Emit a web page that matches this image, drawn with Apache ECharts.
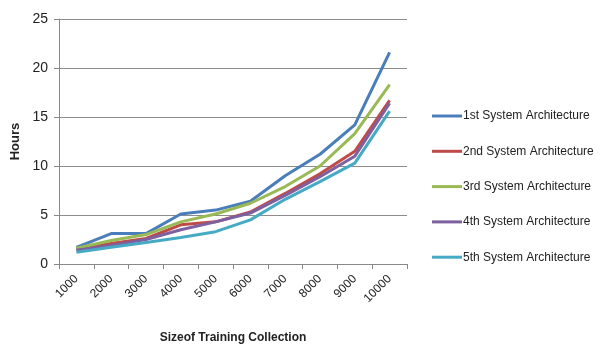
<!DOCTYPE html>
<html>
<head>
<meta charset="utf-8">
<script src="https://cdn.jsdelivr.net/npm/echarts@6/dist/echarts.min.js"></script>
<style>
  html, body { margin: 0; padding: 0; background: #fff; }
  #chart { width: 614px; height: 349px; }
</style>
</head>
<body>
<div id="chart"></div>
<script>
// Training collection sizes (x axis categories)
const sizes = ['1000', '2000', '3000', '4000', '5000', '6000', '7000', '8000', '9000', '10000'];

// Training time in hours for each architecture
const arch1 = [1.7, 3.1, 3.1, 5.1, 5.5, 6.4, 9.0, 11.2, 14.2, 21.6];
const arch2 = [1.5, 2.1, 2.6, 4.0, 4.3, 5.3, 7.2, 9.2, 11.5, 16.7];
const arch3 = [1.6, 2.4, 3.0, 4.3, 5.1, 6.2, 7.9, 10.0, 13.3, 18.3];
const arch4 = [1.4, 1.9, 2.5, 3.5, 4.3, 5.2, 7.0, 8.9, 11.0, 16.4];
const arch5 = [1.2, 1.7, 2.2, 2.7, 3.3, 4.5, 6.6, 8.4, 10.3, 15.6];

const seriesNames = [
  '1st System Architecture',
  '2nd System Architecture',
  '3rd System Architecture',
  '4th System Architecture',
  '5th System Architecture'
];
const seriesData = [arch1, arch2, arch3, arch4, arch5];
const colors = ['#4a7ebb', '#be4b48', '#98b954', '#7d60a0', '#46aac5'];

const font = "'Liberation Sans', sans-serif";

const chart = echarts.init(document.getElementById('chart'));
chart.setOption({
  animation: false,
  color: colors,
  textStyle: { fontFamily: font },
  grid: { left: 59, right: 207, top: 19, bottom: 84 },
  legend: {
    orient: 'vertical',
    left: 432,
    top: 110,
    padding: 0,
    itemWidth: 30,
    itemHeight: 3,
    itemGap: 23.3,
    icon: 'rect',
    data: seriesNames,
    textStyle: { fontFamily: font, fontSize: 12, color: '#222', padding: [0, 0, 0, -4] }
  },
  xAxis: {
    type: 'category',
    data: sizes,
    boundaryGap: true,
    name: 'Sizeof Training Collection',
    nameLocation: 'middle',
    nameGap: 68,
    nameTextStyle: { fontFamily: font, fontSize: 12, fontWeight: 'bold', color: '#222' },
    axisLine: { lineStyle: { color: '#888', width: 1 } },
    axisTick: { show: true, length: 5, lineStyle: { color: '#888' } },
    axisLabel: { rotate: 45, fontFamily: font, fontSize: 12, color: '#222', margin: 13 }
  },
  yAxis: {
    type: 'value',
    min: 0,
    max: 25,
    interval: 5,
    name: 'Hours',
    nameLocation: 'middle',
    nameGap: 30,
    nameTextStyle: { fontFamily: font, fontSize: 13, fontWeight: 'bold', color: '#222' },
    axisLine: { show: true, lineStyle: { color: '#888', width: 1 } },
    axisTick: { show: true, length: 5, lineStyle: { color: '#888' } },
    axisLabel: { fontFamily: font, fontSize: 14, color: '#222', margin: 11 },
    splitLine: { lineStyle: { color: '#8c8c8c', width: 1 } }
  },
  series: seriesNames.map((name, i) => ({
    name: name,
    type: 'line',
    data: seriesData[i],
    symbol: 'none',
    lineStyle: { width: 3 }
  }))
});
</script>
</body>
</html>
